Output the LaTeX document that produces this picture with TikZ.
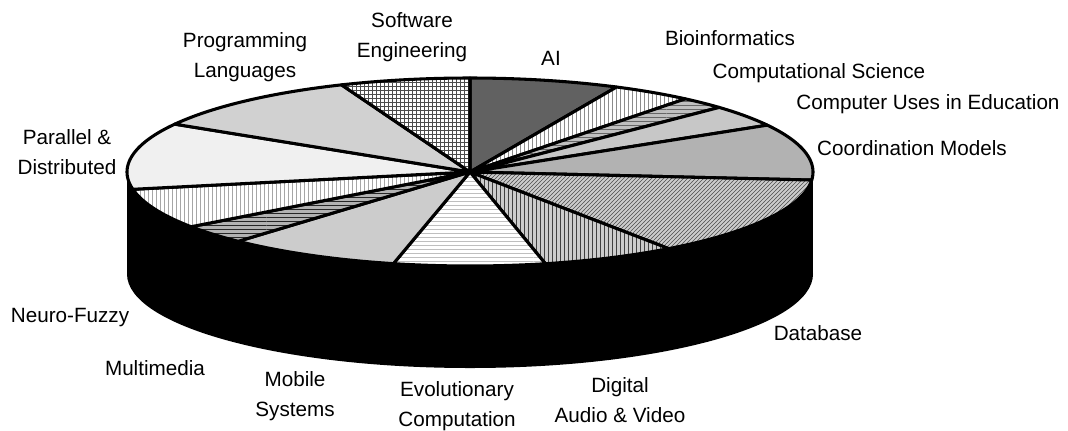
\documentclass[tikz,border=0pt]{standalone}
\usepackage{fontspec}
\setmainfont{Liberation Sans}
\usetikzlibrary{patterns}
\begin{document}
\begin{tikzpicture}[x=0.75pt,y=-0.75pt,
  slice/.style={draw=black,line width=2.3pt,line join=round},
  lbl/.style={font=\fontsize{15.5}{22.2}\selectfont,align=center,inner sep=0pt},
  side/.style={fill=black}]
\useasboundingbox (0,0) rectangle (1068,430);
\coordinate (c) at (470,172);
% side of the pie
\fill[side] (127,172) rectangle (813,274);
\fill[side] (470,274) ellipse [x radius=343, y radius=94];
% slices
\newcommand\pieslice[3]{%
  \filldraw[slice,#3] (c) -- plot[domain=#1:#2,samples=40,variable=\t]
   ({470+343*cos(\t)},{172-94*sin(\t)}) -- cycle;}
\pieslice{90}{64.7}{fill=black!62}
\pieslice{64.7}{51.1}{preaction={fill=white},pattern=vertical lines,pattern color=black!45}
\pieslice{51.1}{43.4}{preaction={fill=black!25},pattern=horizontal lines,pattern color=black!60}
\pieslice{43.4}{29.9}{fill=black!22}
\pieslice{29.9}{-4.9}{fill=black!30}
\pieslice{-4.9}{-54.6}{preaction={fill=black!20},pattern=north east lines,pattern color=black!70}
\pieslice{-54.6}{-77.3}{preaction={fill=black!20},pattern=vertical lines,pattern color=black!75}
\pieslice{-77.3}{-102.9}{preaction={fill=white},pattern=horizontal lines,pattern color=black!25}
\pieslice{-102.9}{-132.5}{fill=black!20}
\pieslice{-132.5}{-144.4}{preaction={fill=black!30},pattern=horizontal lines,pattern color=black!85}
\pieslice{-144.4}{-169.4}{preaction={fill=white},pattern=vertical lines,pattern color=black!35}
\pieslice{-169.4}{-210.6}{fill=black!6}
\pieslice{-210.6}{-248}{fill=black!18}
\pieslice{-248}{-270}{preaction={fill=white},pattern=grid,pattern color=black!70}
% labels
\node[lbl] (se)  at (412,37)  {Software\\Engineering};
\node[lbl] (pl)  at (245,57)  {Programming\\Languages};
\node[lbl] (ai)  at (551,58)  {AI};
\node[lbl] (bio) at (730,38)  {Bioinformatics};
\node[lbl] (cs)  at (819,73)  {Computational Science};
\node[lbl] (cue) at (928,104) {Computer Uses in Education};
\node[lbl] (cm)  at (912,148) {Coordination Models};
\node[lbl] (db)  at (818,333) {Database};
\node[lbl] (dav) at (620,400) {Digital\\Audio \& Video};
\node[lbl] (ec)  at (457,406) {Evolutionary\\Computation};
\node[lbl] (ms)  at (295,396) {Mobile\\Systems};
\node[lbl] (mm)  at (155,368) {Multimedia};
\node[lbl] (nf)  at (70,318)  {Neuro-Fuzzy};
\node[lbl] (pd)  at (67,152)  {Parallel \&\\Distributed};
\end{tikzpicture}
\end{document}
